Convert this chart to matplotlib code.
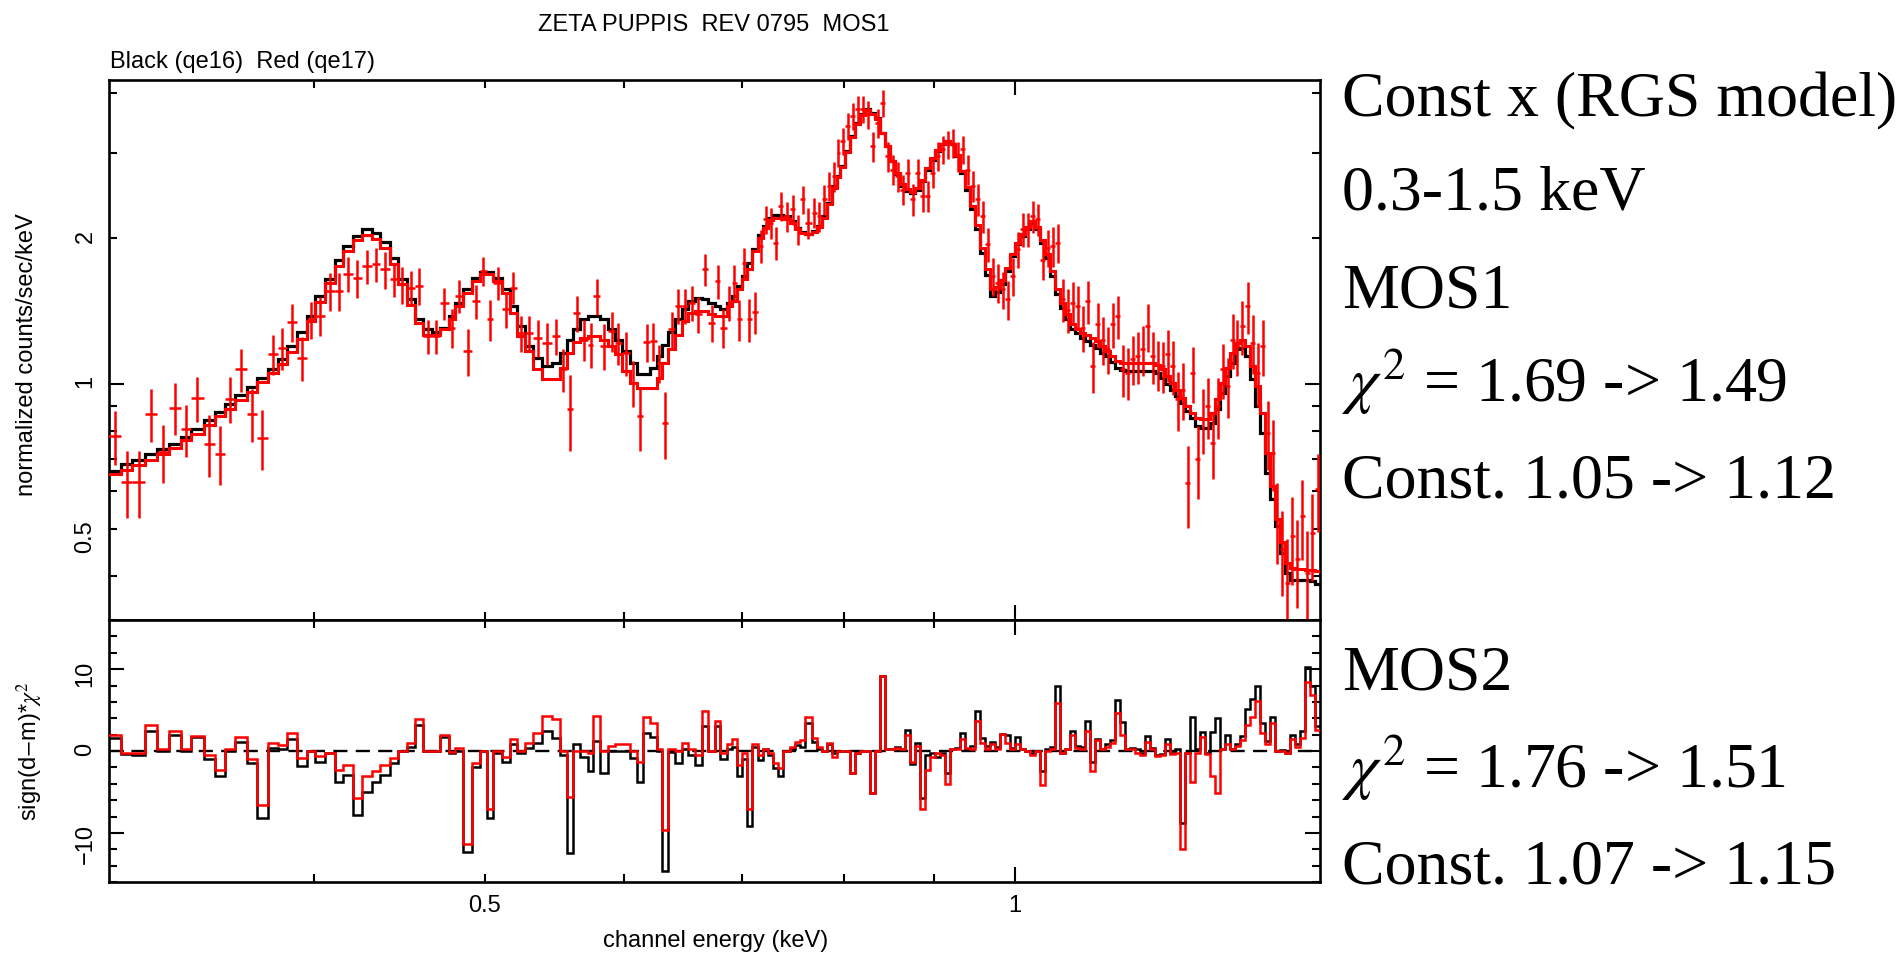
import numpy as np
import matplotlib
matplotlib.use("Agg")
import matplotlib.pyplot as plt
from matplotlib.ticker import FixedLocator, FuncFormatter, NullFormatter, MultipleLocator

plt.rcParams['font.family'] = ['Liberation Sans', 'DejaVu Sans']
plt.rcParams['mathtext.fontset'] = 'stix'

# ---------------- data ----------------
# channel energy bin edges (keV)
energy_edges = [
    0.3058, 0.3109, 0.3153, 0.3208, 0.3257, 0.3311, 0.3363, 0.3407, 0.3463, 0.3516,
    0.3562, 0.3608, 0.3664, 0.3712, 0.3766, 0.3816, 0.3861, 0.3912, 0.3963, 0.4007,
    0.4059, 0.4113, 0.4156, 0.4211, 0.4257, 0.4314, 0.4361, 0.4419, 0.4464, 0.4516,
    0.4566, 0.4615,
    0.4667, 0.4717, 0.4769, 0.4810, 0.4863, 0.4917, 0.4970, 0.5014, 0.5057, 0.5113,
    0.5169, 0.5214, 0.5271, 0.5328, 0.5387, 0.5458, 0.5517, 0.5566, 0.5614, 0.5663,
    0.5725, 0.5763, 0.5813, 0.5877, 0.5928, 0.5981, 0.6045, 0.6099, 0.6152, 0.6206,
    0.6261, 0.6302, 0.6357, 0.6413, 0.6469, 0.6525, 0.6582, 0.6640, 0.6698, 0.6757,
    0.6801, 0.6861, 0.6906, 0.6951, 0.6997, 0.7042, 0.7089,
    0.7150, 0.7197, 0.7244, 0.7292, 0.7339, 0.7388, 0.7453, 0.7502, 0.7551, 0.7601,
    0.7667, 0.7717, 0.7768, 0.7819, 0.7870, 0.7922, 0.7956, 0.8008, 0.8061, 0.8114,
    0.8167, 0.8221, 0.8275, 0.8329, 0.8384, 0.8439, 0.8494, 0.8550, 0.8605, 0.8661,
    0.8719, 0.8775, 0.8833, 0.8890, 0.8950, 0.9007, 0.9067, 0.9126, 0.9186, 0.9246,
    0.9307, 0.9368, 0.9430, 0.9491, 0.9553, 0.9615, 0.9678, 0.9742, 0.9806, 0.9870,
    0.9935, 1.0000, 1.0066, 1.0132, 1.0198, 1.0265, 1.0332,
    1.0400, 1.0468, 1.0537, 1.0606, 1.0675, 1.0745, 1.0815, 1.0886, 1.0958, 1.1029,
    1.1101, 1.1174, 1.1248, 1.1321, 1.1396, 1.1470, 1.1545, 1.1621, 1.1697, 1.1774,
    1.1851, 1.1929, 1.2007, 1.2085, 1.2165, 1.2244, 1.2325, 1.2405, 1.2487, 1.2569,
    1.2651, 1.2734, 1.2818, 1.2902, 1.2986, 1.3071, 1.3157, 1.3243, 1.3330, 1.3417,
    1.3505, 1.3594, 1.3683, 1.3773, 1.3863, 1.3954, 1.4045, 1.4137, 1.4230, 1.4323,
    1.4417, 1.4511, 1.4607, 1.4702, 1.4799, 1.4896,
]

# model, black (qe16), normalized counts/sec/keV
model_qe16 = [
    0.659, 0.681, 0.695, 0.714, 0.733, 0.752, 0.777, 0.807, 0.841, 0.873,
    0.906, 0.946, 0.984, 1.029, 1.074, 1.123, 1.197, 1.279, 1.381, 1.519,
    1.652, 1.801, 1.929, 2.023, 2.088, 2.055, 1.965, 1.824, 1.645, 1.495,
    1.359,
    1.296, 1.279, 1.306, 1.381, 1.472, 1.568, 1.658, 1.703, 1.703, 1.658,
    1.568, 1.448, 1.316, 1.197, 1.132, 1.088, 1.105, 1.159, 1.235, 1.296,
    1.359, 1.385, 1.385, 1.359, 1.296, 1.235, 1.169, 1.105, 1.050, 1.050,
    1.079, 1.141, 1.206, 1.279, 1.359, 1.426, 1.483, 1.507, 1.495, 1.467,
    1.448, 1.426, 1.467, 1.519, 1.593, 1.671, 1.781,
    1.904, 2.029, 2.121, 2.207, 2.242, 2.242, 2.225, 2.173, 2.104, 2.061,
    2.048, 2.071, 2.121, 2.225, 2.371, 2.567, 2.692, 2.824, 3.034, 3.260,
    3.473, 3.614, 3.702, 3.643, 3.556, 3.311, 3.106, 2.892, 2.714, 2.567,
    2.506, 2.479, 2.526, 2.628, 2.779, 2.915, 3.034, 3.132, 3.183, 3.132,
    2.962, 2.736, 2.526, 2.297, 2.088, 1.868, 1.684, 1.519, 1.550, 1.606,
    1.712, 1.839, 1.944, 2.023, 2.088, 2.155, 2.088,
    1.959, 1.824, 1.671, 1.531, 1.437, 1.359, 1.296, 1.275, 1.245, 1.225,
    1.206, 1.187, 1.159, 1.141, 1.109, 1.079, 1.067, 1.062, 1.062, 1.062,
    1.062, 1.062, 1.062, 1.054, 1.029, 0.997, 0.973, 0.943, 0.913, 0.878,
    0.850, 0.817, 0.811, 0.811, 0.830, 0.885, 0.958, 1.037, 1.105, 1.178,
    1.187, 1.141, 1.021, 0.899, 0.792, 0.654, 0.576, 0.507, 0.446, 0.406,
    0.393, 0.393, 0.393, 0.393, 0.390, 0.384,
]

# model, red (qe17)
model_qe17 = [
    0.649, 0.663, 0.678, 0.694, 0.714, 0.737, 0.763, 0.788, 0.820, 0.857,
    0.887, 0.925, 0.961, 1.008, 1.054, 1.100, 1.163, 1.239, 1.348, 1.476,
    1.619, 1.758, 1.883, 1.984, 2.029, 1.997, 1.913, 1.767, 1.606, 1.453,
    1.338,
    1.265, 1.265, 1.300, 1.359, 1.448, 1.543, 1.632, 1.692, 1.692, 1.632,
    1.543, 1.403, 1.255, 1.169, 1.071, 1.021, 1.021, 1.079, 1.159, 1.220,
    1.245, 1.255, 1.255, 1.235, 1.197, 1.150, 1.062, 1.005, 0.981, 0.981,
    0.981, 1.029, 1.105, 1.178, 1.265, 1.348, 1.403, 1.414, 1.414, 1.392,
    1.385, 1.385, 1.448, 1.483, 1.568, 1.645, 1.725,
    1.88, 2.00, 2.10, 2.18, 2.21, 2.21, 2.20, 2.15, 2.09, 2.05,
    2.04, 2.06, 2.11, 2.21, 2.36, 2.55, 2.68, 2.81, 3.02, 3.24,
    3.46, 3.60, 3.69, 3.63, 3.54, 3.31, 3.11, 2.90, 2.73, 2.59,
    2.53, 2.50, 2.55, 2.65, 2.80, 2.93, 3.05, 3.14, 3.19, 3.14,
    2.98, 2.76, 2.56, 2.34, 2.13, 1.91, 1.73, 1.57, 1.59, 1.64,
    1.74, 1.86, 1.96, 2.04, 2.11, 2.17, 2.11,
    1.990, 1.853, 1.712, 1.568, 1.472, 1.392, 1.327, 1.296, 1.275, 1.265,
    1.245, 1.225, 1.197, 1.169, 1.141, 1.114, 1.105, 1.102, 1.102, 1.102,
    1.102, 1.102, 1.102, 1.096, 1.071, 1.037, 1.005, 0.973, 0.935, 0.899,
    0.871, 0.850, 0.844, 0.844, 0.871, 0.928, 1.005, 1.079, 1.159, 1.216,
    1.235, 1.197, 1.088, 0.989, 0.871, 0.720, 0.614, 0.524, 0.469, 0.426,
    0.416, 0.414, 0.414, 0.412, 0.412, 0.409,
]

# data, red (qe17)
data_qe17 = [
    0.779, 0.626, 0.626, 0.867, 0.722, 0.892, 0.804, 0.935, 0.751, 0.716,
    0.931, 1.071, 0.867, 0.773, 1.154, 1.187, 1.342, 1.132, 1.359, 1.385,
    1.555, 1.555, 1.692, 1.658, 1.753, 1.767, 1.725, 1.645, 1.606, 1.581,
    1.598,
    1.255, 1.255, 1.467, 1.306, 1.519, 1.169, 1.483, 1.712, 1.359, 1.619,
    1.426, 1.581, 1.275, 1.275, 1.245, 1.216, 1.255, 1.071, 0.885, 1.403,
    1.235, 1.206, 1.519, 1.197, 1.285, 1.216, 1.159, 1.005, 0.857, 1.220,
    1.225, 1.105, 0.830, 1.296, 1.448, 1.448, 1.472, 1.392, 1.725, 1.338,
    1.632, 1.306, 1.472, 1.619, 1.359, 1.781, 1.360,
    1.41, 1.93, 2.190, 2.155, 1.959, 2.334, 2.225, 2.297, 2.088, 2.409,
    2.155, 2.261, 2.225, 2.409, 2.567, 2.692, 3.009, 3.183, 3.419, 3.584,
    3.702, 3.702, 3.614, 3.107, 3.473, 3.821, 2.962, 2.779, 2.692, 2.526,
    2.736, 2.409, 2.736, 2.447, 2.447, 2.736, 2.962, 3.058, 3.132, 3.157,
    2.962, 3.058, 2.779, 2.567, 2.409, 2.225, 1.944, 1.671, 1.619, 1.568,
    1.495, 1.671, 1.898, 2.088, 2.088, 2.225, 2.190,
    1.809, 1.913, 1.928, 1.959, 1.495, 1.425, 1.472, 1.448, 1.306, 1.483,
    1.088, 1.327, 1.235, 1.178, 1.327, 1.381, 1.071, 1.054, 1.123, 1.141,
    1.178, 1.316, 1.141, 1.096, 1.088, 1.150, 1.088, 0.928, 0.973, 0.623,
    1.054, 0.697, 0.844, 0.899, 0.755, 0.899, 1.071, 0.989, 1.235, 1.197,
    1.316, 1.448, 1.216, 1.054, 1.197, 0.792, 0.720, 0.524, 0.454, 0.387,
    0.483, 0.433, 0.532, 0.406, 0.491, 0.604,
]

err_qe17 = [
    0.10, 0.10, 0.10, 0.11, 0.10, 0.11, 0.10, 0.10, 0.11, 0.10,
    0.10, 0.11, 0.11, 0.11, 0.11, 0.12, 0.12, 0.12, 0.12, 0.13,
    0.14, 0.14, 0.14, 0.15, 0.14, 0.14, 0.15, 0.13, 0.14, 0.13,
    0.14,
    0.10, 0.10, 0.11, 0.12, 0.12, 0.13, 0.12, 0.12, 0.13, 0.13,
    0.12, 0.12, 0.11, 0.11, 0.11, 0.12, 0.11, 0.11, 0.16, 0.12,
    0.12, 0.13, 0.13, 0.13, 0.12, 0.12, 0.12, 0.11, 0.13, 0.11,
    0.11, 0.10, 0.13, 0.11, 0.12, 0.12, 0.12, 0.12, 0.13, 0.12,
    0.13, 0.12, 0.12, 0.14, 0.13, 0.13, 0.14,
    0.14, 0.15, 0.15, 0.16, 0.15, 0.16, 0.16, 0.16, 0.15, 0.16,
    0.16, 0.16, 0.16, 0.17, 0.18, 0.19, 0.20, 0.21, 0.22, 0.23,
    0.24, 0.24, 0.24, 0.22, 0.24, 0.25, 0.21, 0.20, 0.19, 0.18,
    0.19, 0.18, 0.19, 0.18, 0.18, 0.19, 0.20, 0.21, 0.21, 0.22,
    0.21, 0.21, 0.20, 0.19, 0.18, 0.17, 0.16, 0.15, 0.15, 0.14,
    0.14, 0.15, 0.16, 0.17, 0.17, 0.17, 0.17,
    0.17, 0.17, 0.18, 0.18, 0.15, 0.15, 0.15, 0.15, 0.14, 0.15,
    0.13, 0.14, 0.14, 0.13, 0.14, 0.14, 0.13, 0.13, 0.13, 0.14,
    0.14, 0.15, 0.14, 0.13, 0.13, 0.14, 0.14, 0.13, 0.13, 0.12,
    0.14, 0.12, 0.13, 0.13, 0.12, 0.13, 0.14, 0.14, 0.16, 0.16,
    0.17, 0.18, 0.17, 0.16, 0.16, 0.13, 0.12, 0.10, 0.09, 0.09,
    0.10, 0.09, 0.10, 0.09, 0.10, 0.11,
]

# sign(d-m) * chi^2 residuals
resid_qe16 = [
    1.55, -0.4, -0.5, 2.45, 0.0, 2.0, 0.0, 1.75, -1.0, -3.06,
    0.0, 1.14, -1.5, -8.2, 0.33, 0.2, 1.47, -1.84, 0.0, -1.3,
    -0.3, -3.76, -2.9, -7.8, -5.0, -3.8, -2.9, -1.5, 0.0, 0.53,
    3.2, 0.0, 0.0, 1.75, -0.2, 0.0, -12.3, -1.9, 0.0, -8.2,
    -0.2, -1.3, 0.86, -0.2, 0.33, 0.94, 2.5, 1.55, -0.5, -12.5,
    0.86, -0.7, -2.5, 1.27, -2.7, 0.0, 0.0, 0.0, -0.9, -3.8,
    2.2, 1.75, 0.0, -14.7, -0.1, -1.5, 0.3, -0.5, -1.7, 3.0,
    0.0, 3.0, -1.0, 0.3, 0.5, -3.1, -1.0, -9.1, 0.5, -1.1,
    0.2, -0.5, -2.1, -3.1, 0.0, 0.3, 0.7, 0.5, 3.4, 1.1,
    0.3, 0.0, 0.9, -0.3, 0.0, 0.0, 0.0, -2.7, -0.3, 0.0,
    0.0, -5.1, 0.0, 9.1, 0.2, 0.2, 0.5, 0.3, 2.6, -1.6,
    1.0, -5.7, -0.5, -0.3, -0.7, -0.2, -2.7, 0.2, 0.4, 2.2,
    0.3, 0.6, 4.9, 1.6, 0.6, 1.1, 0.5, 2.1, 2.0, 0.4,
    1.7, 0.3, 0.0, -0.3, 0.0, -2.5, 0.2, 0.5, 7.9, -0.3,
    0.2, 2.4, 0.6, 0.5, 3.7, -1.4, 1.5, 0.3, 0.8, 1.4,
    6.2, 3.5, 0.3, 0.4, 0.2, -0.3, 1.8, 0.4, -0.5, -0.4,
    1.5, -0.2, 0.3, -8.8, -0.3, 4.2, 0.2, 2.3, -0.3, 2.3,
    4.0, 0.3, 2.0, 0.2, 0.8, 1.8, 5.1, 6.3, 8.0, 3.4,
    1.2, 4.1, 0.0, 0.1, -0.3, 1.9, 0.8, 2.5, 10.2, 7.9,
    3.0,
]
resid_qe17 = [
    1.9, -0.3, -0.3, 3.2, 0.2, 2.45, 0.3, 1.85, -0.5, -2.3,
    0.2, 1.67, -1.0, -6.6, 0.94, 0.73, 2.16, -0.9, 0.0, -0.6,
    -0.2, -2.3, -1.7, -5.8, -3.1, -2.5, -1.7, -0.8, 0.0, 0.94,
    3.9, 0.0, 0.0, 1.9, -0.1, 0.4, -11.3, -1.5, 0.0, -7.1,
    0.0, -0.7, 1.47, 0.0, 0.94, 2.16, 4.3, 3.9, 0.0, -5.6,
    0.0, 0.0, -0.3, 4.3, 0.0, 0.6, 0.8, 0.8, 0.0, -1.3,
    4.1, 3.4, 0.2, -9.6, 0.2, 0.0, 0.94, 0.3, -0.5, 4.9,
    0.0, 3.7, -0.3, 0.9, 1.5, -1.7, -0.3, -7.1, 0.9, -0.5,
    0.2, -0.3, -1.5, -2.1, 0.0, 0.5, 1.1, 1.3, 4.1, 1.55,
    0.5, 0.0, 1.0, -0.7, 0.0, 0.0, 0.0, -2.7, -0.3, 0.0,
    0.0, -5.1, 0.0, 9.1, 0.2, 0.2, 0.4, 0.2, 2.0, -1.4,
    0.6, -7.1, -2.3, -0.7, -0.3, -0.5, -4.0, 0.2, 0.3, 1.5,
    0.4, 0.3, 3.7, 1.0, 0.3, 0.8, 0.3, 2.1, 1.0, 0.2,
    0.8, 0.2, 0.0, -0.5, 0.0, -4.2, 0.0, 0.3, 5.9, -0.3,
    0.3, 1.9, 0.4, 0.3, 2.4, -2.5, 1.4, 0.2, 0.5, 1.0,
    4.6, 2.0, 0.2, 0.3, -0.2, -0.5, 1.1, 0.3, -0.6, -0.5,
    0.8, -0.4, -0.3, -12.0, -0.2, -3.8, -0.3, 1.7, -0.4, -3.1,
    -5.1, 0.2, 0.8, 0.3, 0.6, 1.3, 3.2, 4.2, 6.1, 2.2,
    0.8, 3.4, 0.0, 0.0, -0.3, 1.5, 0.5, 1.6, 8.4, 6.8,
    2.6,
]

x_minor_ticks = [0.4, 0.5, 0.6, 0.7, 0.8, 0.9]
y_minor_ticks = [0.4, 0.5, 0.6, 0.7, 0.8, 0.9, 2, 3, 4]
right_text = [
    ("Const x (RGS model)", 116),
    ("0.3-1.5 keV", 209),
    ("MOS1", 307),
    (r"$\chi^2$ = 1.69 -> 1.49", 402),
    ("Const. 1.05 -> 1.12", 497),
    ("MOS2", 690),
    (r"$\chi^2$ = 1.76 -> 1.51", 788),
    ("Const. 1.07 -> 1.15", 883),
]

# ---------------- figure ----------------
W, H = 1899, 956
fig = plt.figure(figsize=(W / 100, H / 100), dpi=100)
L, R = 109, 1320
ax1 = fig.add_axes([L / W, 1 - 620 / H, (R - L) / W, (620 - 80) / H])
ax2 = fig.add_axes([L / W, 1 - 882 / H, (R - L) / W, (882 - 620) / H])

e = np.array(energy_edges)
lo, hi = e[:-1], e[1:]
mid = np.sqrt(lo * hi)

ax1.stairs(model_qe16, e, baseline=None, color='black', lw=2.3, zorder=2)
ax1.stairs(model_qe17, e, baseline=None, color='red', lw=2.2, zorder=3)
ax1.errorbar(mid, data_qe17, xerr=[mid - lo, hi - mid], yerr=err_qe17,
             fmt='none', ecolor='red', elinewidth=1.8, capsize=0, zorder=4)
ax1.set_xscale('log')
ax1.set_yscale('log')
ax1.set_xlim(0.306, 1.4896)
ax1.set_ylim(0.324, 4.26)

ax2.axhline(0, color='black', lw=1.7, ls=(0, (6, 3.5)), zorder=1)
ax2.stairs(resid_qe16, e, baseline=None, color='black', lw=1.8, zorder=2)
ax2.stairs(resid_qe17, e, baseline=None, color='red', lw=1.8, zorder=3)
ax2.set_xscale('log')
ax2.set_xlim(0.306, 1.4896)
ax2.set_ylim(-16, 16)

for ax in (ax1, ax2):
    ax.xaxis.set_major_locator(FixedLocator([1.0]))
    ax.xaxis.set_minor_locator(FixedLocator(x_minor_ticks))
    ax.tick_params(which='both', direction='in', top=True, right=True,
                   width=1.5, labelsize=17, color='black')
    ax.tick_params(which='major', length=11)
    ax.tick_params(which='minor', length=6)
    for s in ax.spines.values():
        s.set_linewidth(1.9)

ax1.xaxis.set_major_formatter(NullFormatter())
ax1.xaxis.set_minor_formatter(NullFormatter())
ax2.xaxis.set_major_formatter(FuncFormatter(lambda v, p: '1'))
ax2.xaxis.set_minor_formatter(FuncFormatter(lambda v, p: '0.5' if abs(v - 0.5) < 1e-6 else ''))
ax2.tick_params(axis='x', which='both', pad=9)

ax1.yaxis.set_major_locator(FixedLocator([1.0]))
ax1.yaxis.set_minor_locator(FixedLocator(y_minor_ticks))
ax1.yaxis.set_major_formatter(FuncFormatter(lambda v, p: '1'))
ax1.yaxis.set_minor_formatter(FuncFormatter(
    lambda v, p: '0.5' if abs(v - 0.5) < 1e-6 else ('2' if abs(v - 2) < 1e-6 else '')))
ax2.yaxis.set_major_locator(FixedLocator([-10, 0, 10]))
ax2.yaxis.set_minor_locator(MultipleLocator(2))
for ax in (ax1, ax2):
    ax.tick_params(axis='y', which='both', labelrotation=90, pad=9)

fig.text(27 / W, 1 - 355 / H, 'normalized counts/sec/keV', rotation=90,
         ha='center', va='center', fontsize=17)
fig.text(30 / W, 1 - 751 / H, r'sign(d$-$m)*$\chi^2$', rotation=90,
         ha='center', va='center', fontsize=17)
fig.text(716 / W, 1 - 941 / H, 'channel energy (keV)', ha='center', va='center', fontsize=17)
fig.text(714 / W, 1 - 25 / H, 'ZETA PUPPIS  REV 0795  MOS1', ha='center', va='center', fontsize=17)
fig.text(110 / W, 1 - 62 / H, 'Black (qe16)  Red (qe17)', ha='left', va='center', fontsize=17)

for s, yb in right_text:
    fig.text(1342 / W, 1 - yb / H, s, ha='left', va='baseline', fontsize=46,
             family=['Liberation Serif', 'DejaVu Serif'])

fig.savefig('out.png', dpi=100)
